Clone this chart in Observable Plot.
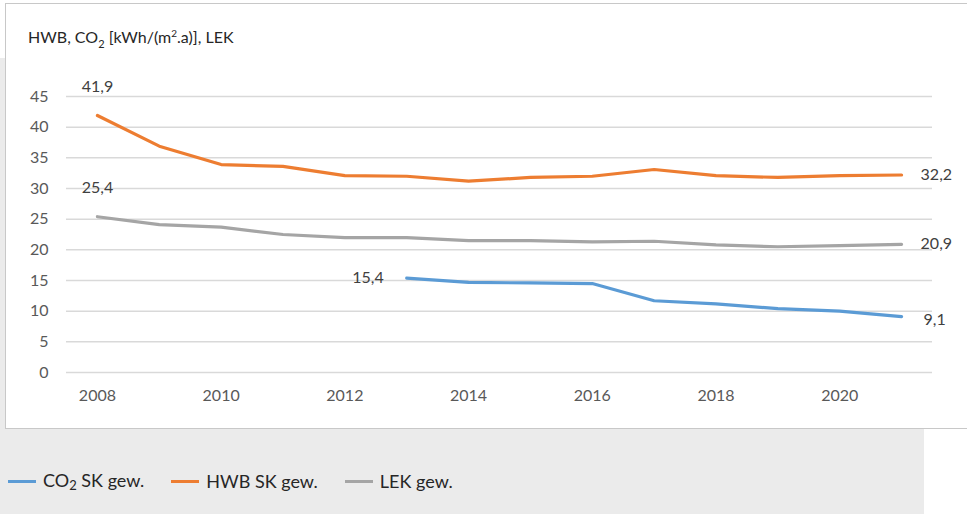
<!DOCTYPE html>
<html><head><meta charset="utf-8">
<script src="https://cdn.jsdelivr.net/npm/d3@7"></script>
<script src="https://cdn.jsdelivr.net/npm/@observablehq/plot@0.6"></script>
<style>
html,body{margin:0;padding:0;}
body{width:967px;height:514px;overflow:hidden;background:#fff;font-family:Lato,"Open Sans",sans-serif;}
#page{position:relative;width:967px;height:514px;}
#grayL{position:absolute;left:0;top:58px;width:6px;height:380px;background:#ebebeb;}
#grayB{position:absolute;left:0;top:428px;width:924px;height:86px;background:#ebebeb;}
#panel{position:absolute;left:5px;top:3px;width:970px;height:424px;border:1.5px solid #c8c8c8;background:#fff;}
#title{position:absolute;left:28px;top:27px;font-size:16px;color:#262626;}
#legend{position:absolute;left:8px;top:469px;font-size:18px;color:#262626;display:flex;align-items:center;}
.item{display:flex;align-items:center;margin-right:27px;}
.sw{display:inline-block;width:28px;height:3px;margin-right:7px;}
#chart{position:absolute;left:5px;top:3px;}
</style></head>
<body><div id="page">
<div id="grayL"></div><div id="grayB"></div><div id="panel"></div>
<div id="chart"></div>
<div id="title">HWB, CO<sub style="font-size:11px">2</sub> [kWh/(m<sup style="font-size:10px">2</sup>.a)], LEK</div>
<div id="legend"></div>
</div>
<script>
const years = [2008,2009,2010,2011,2012,2013,2014,2015,2016,2017,2018,2019,2020,2021];
const hwb = [41.9,36.9,33.9,33.6,32.1,32.0,31.2,31.8,32.0,33.1,32.1,31.8,32.1,32.2];
const lek = [25.4,24.1,23.7,22.5,22.0,22.0,21.5,21.5,21.3,21.4,20.8,20.5,20.7,20.9];
const co2 = [null,null,null,null,null,15.4,14.7,14.6,14.5,11.7,11.2,10.4,10.0,9.1];
const seriesNames = ["CO₂ SK gew.","HWB SK gew.","LEK gew."];
const seriesColors = ["#5B9BD5","#ED7D31","#A5A5A5"];
const yTicks = [0,5,10,15,20,25,30,35,40,45];
const xTicks = [2008,2010,2012,2014,2016,2018,2020];

const rows = [];
[co2,hwb,lek].forEach((arr,si)=>arr.forEach((v,i)=>{ if(v!=null) rows.push({series:seriesNames[si],year:years[i],value:v}); }));
const fmt = v => v.toFixed(1).replace(".",",");
const first = s => rows.filter(d=>d.series===s)[0];
const last = s => rows.filter(d=>d.series===s).slice(-1)[0];

const plot = Plot.plot({
  width:962, height:425,
  marginLeft:61, marginRight:35, marginTop:93, marginBottom:56,
  style:{fontFamily:"Lato, 'Open Sans', sans-serif", fontSize:"16px", color:"#595959", background:"transparent"},
  x:{type:"linear", domain:[years[0]-0.5, years[years.length-1]+0.5]},
  y:{domain:[0,45]},
  color:{domain:seriesNames, range:seriesColors},
  marks:[
    Plot.ruleY(yTicks,{stroke:"#d9d9d9",strokeWidth:1.5}),
    Plot.axisY({ticks:yTicks, tickSize:0, tickPadding:18, label:null, fontSize:16, fill:"#595959"}),
    Plot.axisX({ticks:xTicks, tickFormat:d=>String(d), tickSize:0, tickPadding:17, label:null, fontSize:16, fill:"#595959"}),
    Plot.line(rows,{x:"year",y:"value",z:"series",stroke:"series",strokeWidth:3.2,strokeLinecap:"round",strokeLinejoin:"round"}),
    Plot.text([first("HWB SK gew."), first("LEK gew.")],{x:"year",y:"value",text:d=>fmt(d.value),dy:-29,fill:"#404040",fontSize:16}),
    Plot.text([first("CO₂ SK gew.")],{x:"year",y:"value",text:d=>fmt(d.value),dx:-23,textAnchor:"end",fill:"#404040",fontSize:16}),
    Plot.text([last("HWB SK gew."), last("LEK gew.")],{x:"year",y:"value",text:d=>fmt(d.value),dx:19,textAnchor:"start",fill:"#404040",fontSize:16}),
    Plot.text([last("CO₂ SK gew.")],{x:"year",y:"value",text:d=>fmt(d.value),dx:22,dy:3,textAnchor:"start",fill:"#404040",fontSize:16})
  ]
});
document.getElementById("chart").appendChild(plot);

const leg = document.getElementById("legend");
const legLabels = ["CO<span style='font-size:13px;vertical-align:-3px'>2</span> SK gew.","HWB SK gew.","LEK gew."];
seriesNames.forEach((n,i)=>{
  const it=document.createElement("div"); it.className="item";
  it.innerHTML=`<span class="sw" style="background:${seriesColors[i]}"></span><span>${legLabels[i]}</span>`;
  leg.appendChild(it);
});
</script>
</body></html>
